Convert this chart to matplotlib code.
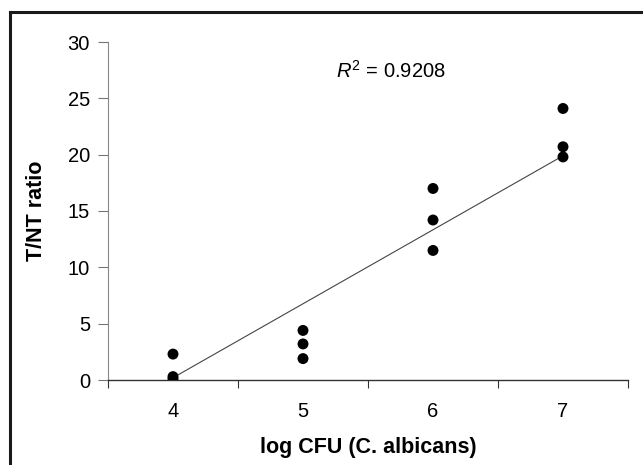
import matplotlib
matplotlib.use("Agg")
import matplotlib.pyplot as plt
from matplotlib.lines import Line2D

# values
log_cfu = [4, 4, 4, 5, 5, 5, 6, 6, 6, 7, 7, 7]
tnt_ratio = [2.3, 0.3, 0.1, 4.4, 3.2, 1.9, 17.0, 14.2, 11.5, 24.1, 20.7, 19.8]
fit_x = [4, 7]
fit_y = [0.2, 19.9]
x_ticks = [4, 5, 6, 7]
y_ticks = [0, 5, 10, 15, 20, 25, 30]

plt.rcParams['font.family'] = ['Liberation Sans', 'DejaVu Sans']
plt.rcParams['mathtext.fontset'] = 'custom'
plt.rcParams['mathtext.rm'] = 'Liberation Sans'
plt.rcParams['mathtext.it'] = 'Liberation Sans:italic'

fig = plt.figure(figsize=(6.43, 4.65), dpi=100)
ax = fig.add_axes([108 / 643, 85 / 465, 520 / 643, 338 / 465])

ax.plot(fit_x, fit_y, color='#444444', linewidth=0.8, zorder=2)
ax.scatter(log_cfu, tnt_ratio, s=62, color='black', edgecolors='none', zorder=3)

ax.set_xlim(3.5, 7.5)
ax.set_ylim(0, 30)
ax.set_xticks(x_ticks)
ax.set_xticks([3.5, 4.5, 5.5, 6.5, 7.5], minor=True)
ax.set_yticks(y_ticks)
ax.tick_params(axis='x', which='major', length=0, pad=16, labelsize=14.5)
ax.tick_params(axis='x', which='minor', length=6, width=0.8, color='#333333', direction='out')
ax.tick_params(axis='y', length=7, width=0.8, color='#777777', pad=6, labelsize=14.5)

for side in ['top', 'right']:
    ax.spines[side].set_visible(False)
ax.spines['left'].set_color('#888888')
ax.spines['left'].set_linewidth(0.8)
ax.spines['bottom'].set_color('#333333')
ax.spines['bottom'].set_linewidth(1.0)

ax.set_xlabel('log CFU (C. albicans)', fontsize=15.5, fontweight='bold', labelpad=11)
ax.set_ylabel('T/NT ratio', fontsize=15.5, fontweight='bold', labelpad=15)

ax.text(5.673, 27.4, r'$R^2$ = 0.9208', fontsize=14.5, ha='center', va='center')

# frame of the original figure panel (left and top edges visible)
fig.add_artist(Line2D([9.5 / 643, 9.5 / 643], [0, 1 - 12 / 465], transform=fig.transFigure,
                      color='#1a1a1a', linewidth=2.2))
fig.add_artist(Line2D([9.5 / 643, 1], [1 - 12 / 465, 1 - 12 / 465], transform=fig.transFigure,
                      color='#1a1a1a', linewidth=2.2))

fig.savefig('out.png', dpi=100)
